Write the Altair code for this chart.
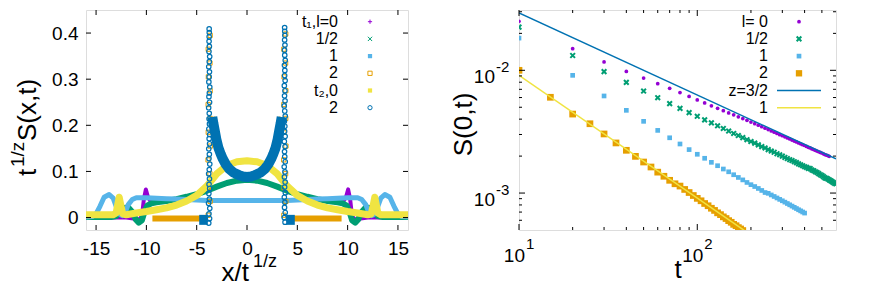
import altair as alt
import pandas as pd

FONT = "Liberation Sans"
PURPLE = "#9400d3"; GREEN = "#009e73"; LBLUE = "#56b4e9"
ORANGE = "#e69f00"; YELLOW = "#f0e442"; BLUE = "#0072b2"

# ---------------- left panel data: x/t^(1/z) , t^(1/z) S(x,t) ----------------
P_X = [-16, -12, -10.6, -10.4, -10.25, -10.05, -9.85, -9.6, -9, -8, -7, -6, -5, -4, -3, -2, -1, 0,
       1, 2, 3, 4, 5, 6, 7, 8, 9, 9.6, 9.85, 10.05, 10.25, 10.4, 10.6, 12, 16]
P_Y = [0.0, 0.0, -0.004, 0.01, 0.04, 0.061, 0.045, 0.036, 0.034, 0.036, 0.040, 0.045, 0.051, 0.058, 0.067, 0.075, 0.080, 0.082,
       0.080, 0.075, 0.067, 0.058, 0.051, 0.045, 0.040, 0.036, 0.034, 0.036, 0.045, 0.061, 0.04, 0.01, -0.004, 0.0, 0.0]

G_X = [-16, -13.5, -13.0, -12.6, -12.2, -11.8, -11.4, -11.05, -10.75, -10.45, -10.2, -9.9, -9.5, -9,
       -8, -7, -6, -5, -4, -3, -2, -1, 0, 1, 2, 3, 4, 5, 6, 7, 8,
       9, 9.5, 9.9, 10.2, 10.45, 10.75, 11.05, 11.4, 11.8, 12.2, 12.6, 13.0, 13.5, 16]
G_Y = [0.001, 0.001, 0.003, 0.012, 0.021, 0.022, 0.012, -0.004, -0.011, -0.006, 0.012, 0.026, 0.031, 0.033,
       0.036, 0.040, 0.045, 0.051, 0.058, 0.067, 0.075, 0.080, 0.082, 0.080, 0.075, 0.067, 0.058, 0.051, 0.045, 0.040, 0.036,
       0.033, 0.031, 0.026, 0.012, -0.006, -0.011, -0.004, 0.012, 0.022, 0.021, 0.012, 0.003, 0.001, 0.001]

LB_X = [-16, -15.4, -15.0, -14.6, -14.2, -13.7, -13.3, -13.0, -12.7, -12.4, -12.1, -11.8, -11.4, -11.0,
        -10, -9, -8, -7, -6, -5, -4, -3, -2, -1, 0, 1, 2, 3, 4, 5, 6, 7, 8, 9, 10,
        11.0, 11.4, 11.8, 12.1, 12.4, 12.7, 13.0, 13.3, 13.7, 14.2, 14.6, 15.0, 15.4, 16]
LB_Y = [0.001, 0.002, 0.008, 0.025, 0.044, 0.050, 0.042, 0.024, 0.008, 0.004, 0.012, 0.028, 0.039, 0.043,
        0.043, 0.042, 0.041, 0.040, 0.039, 0.038, 0.037, 0.037, 0.037, 0.037, 0.037, 0.037, 0.037, 0.037, 0.037,
        0.038, 0.039, 0.040, 0.041, 0.042, 0.043,
        0.043, 0.039, 0.028, 0.012, 0.004, 0.008, 0.024, 0.042, 0.050, 0.044, 0.025, 0.008, 0.002, 0.001]

Y_X = [-16, -14, -13.3, -13.0, -12.85, -12.7, -12.55, -12.35, -12.0, -11,
       -10, -9, -8, -7, -6, -5, -4, -3, -2, -1, 0, 1, 2, 3, 4, 5, 6, 7, 8, 9, 10,
       11, 12.0, 12.35, 12.55, 12.7, 12.85, 13.0, 13.3, 14, 16]
Y_Y = [0.006, 0.006, 0.006, 0.010, 0.028, 0.044, 0.028, 0.008, 0.006, 0.010,
       0.013, 0.017, 0.021, 0.027, 0.036, 0.048, 0.068, 0.095, 0.113, 0.121, 0.123,
       0.121, 0.113, 0.095, 0.068, 0.048, 0.036, 0.027, 0.021, 0.017, 0.013,
       0.010, 0.006, 0.008, 0.028, 0.044, 0.028, 0.010, 0.006, 0.006, 0.006]

# central U-shaped part of the l=2 profiles
U_X = [-3.45, -3.35, -3.2, -3.05, -2.85, -2.6, -2.4, -2.1, -1.75, -1.3, -0.8, -0.4, 0,
       0.4, 0.8, 1.3, 1.75, 2.1, 2.4, 2.6, 2.85, 3.05, 3.2, 3.35, 3.45]
U_Y = [0.218, 0.205, 0.188, 0.170, 0.152, 0.137, 0.127, 0.115, 0.105, 0.097, 0.092, 0.089, 0.088,
       0.089, 0.092, 0.097, 0.105, 0.115, 0.127, 0.137, 0.152, 0.170, 0.188, 0.205, 0.218]
# flat parts outside the fronts
O_BOT_X = [-9.4, -3.9, 3.9, 9.4]
O_BOT_Y = [-0.002, -0.002, -0.002, -0.002]
B_BOT_X = [-4.75, -3.9, 3.9, 4.75]
B_BOT_Y = [-0.005, -0.005, -0.005, -0.005]

# scattered points at the fronts (t2, l=2 circles)
SPL_X = [-3.80, -3.72, -3.78, -3.70, -3.82, -3.74, -3.79, -3.71, -3.77, -3.73, -3.81, -3.75, -3.70, -3.78,
         -3.74, -3.80, -3.72, -3.76, -3.71, -3.79, -3.73, -3.77, -3.75, -3.81, -3.72, -3.78, -3.74, -3.70,
         -3.79, -3.76, -3.73, -3.80, -3.75, -3.71, -3.78, -3.74, -3.77, -3.76, -3.75, -3.76]
SPL_Y = [-0.012, -0.002, 0.008, 0.02, 0.031, 0.04, 0.052, 0.063, 0.072, 0.084, 0.095, 0.104, 0.116, 0.128,
         0.137, 0.149, 0.16, 0.171, 0.18, 0.192, 0.203, 0.214, 0.226, 0.238, 0.25, 0.262, 0.27, 0.283,
         0.294, 0.305, 0.316, 0.327, 0.338, 0.349, 0.36, 0.371, 0.382, 0.392, 0.401, 0.409]
SPR_X = [3.78, 3.70, 3.80, 3.73, 3.76, 3.71, 3.81, 3.74, 3.79, 3.72, 3.77, 3.70, 3.80, 3.75,
         3.73, 3.78, 3.71, 3.79, 3.74, 3.76, 3.72, 3.80, 3.75, 3.70, 3.78, 3.73, 3.77, 3.71,
         3.79, 3.74, 3.76, 3.72, 3.80, 3.75, 3.73, 3.77, 3.74, 3.76, 3.75, 3.74]
SPR_Y = [-0.01, 0.0, 0.011, 0.022, 0.033, 0.044, 0.054, 0.066, 0.077, 0.088, 0.099, 0.11, 0.121, 0.132,
         0.143, 0.154, 0.165, 0.176, 0.187, 0.198, 0.209, 0.22, 0.231, 0.242, 0.253, 0.264, 0.275, 0.286,
         0.297, 0.308, 0.319, 0.33, 0.341, 0.352, 0.363, 0.374, 0.385, 0.395, 0.404, 0.412]
# scattered points at the fronts (t1, l=2 squares)
SQ_X = [-3.86, -3.66, -3.84, -3.68, -3.87, -3.65, -3.85, -3.67, -3.86, -3.66, -3.84, -3.68, -3.85, -3.66,
        3.66, 3.86, 3.68, 3.84, 3.65, 3.87, 3.67, 3.85, 3.66, 3.86, 3.68, 3.84, 3.66, 3.85]
SQ_Y = [0.005, 0.035, 0.065, 0.095, 0.125, 0.155, 0.185, 0.215, 0.245, 0.275, 0.305, 0.335, 0.365, 0.395,
        0.005, 0.035, 0.065, 0.095, 0.125, 0.155, 0.185, 0.215, 0.245, 0.275, 0.305, 0.335, 0.365, 0.398]

XT_L = [-15, -10, -5, 0, 5, 10, 15]
YT_L = [0, 0.1, 0.2, 0.3, 0.4]
LEG_L = ["t\u2081,l=0", "1/2", "1", "2", "t\u2082,0", "2"]

# ---------------- right panel data: S(0,t) ----------------
T0 = [10, 20, 30, 40, 50, 60, 70, 80, 90, 100, 110, 120, 130, 140, 150, 160, 170, 180, 190, 200,
      210, 220, 230, 240, 250, 260, 270, 280, 290, 300, 310, 320, 330, 340, 350, 360, 370, 380, 390, 400,
      410, 420, 430, 440, 450, 460, 470, 480, 490, 500, 510, 520, 530, 540, 550]
S0 = [0.0251, 0.0150, 0.0117, 0.00980, 0.00865, 0.00778, 0.00713, 0.00659, 0.00613, 0.00574,
      0.00542, 0.00514, 0.00490, 0.00469, 0.00450, 0.00434, 0.00418, 0.00404, 0.00391, 0.00379,
      0.00367, 0.00357, 0.00347, 0.00338, 0.00329, 0.00321, 0.00313, 0.00306, 0.00299, 0.00293,
      0.00287, 0.00281, 0.00276, 0.00270, 0.00265, 0.00261, 0.00256, 0.00252, 0.00248, 0.00244,
      0.00240, 0.00236, 0.00233, 0.00229, 0.00226, 0.00223, 0.00220, 0.00217, 0.00214, 0.00212,
      0.00209, 0.00206, 0.00204, 0.00202, 0.00199]
T_HALF = [10, 20, 30, 40, 50, 60, 70, 80, 90, 100, 110, 120, 130, 140, 150, 160, 170, 180, 190, 200,
          210, 220, 230, 240, 250, 260, 270, 280, 290, 300, 310, 320, 330, 340, 350, 360, 370, 380, 390, 400,
          410, 420, 430, 440, 450, 460, 470, 480, 490, 500, 510, 520, 530, 540, 550, 560, 570, 580, 590, 600]
S_HALF = [0.0225, 0.0132, 0.00975, 0.00798, 0.00678, 0.00598, 0.00535, 0.00490, 0.00452, 0.00422,
          0.00395, 0.00373, 0.00353, 0.00336, 0.00320, 0.00306, 0.00294, 0.00283, 0.00272, 0.00263,
          0.00255, 0.00247, 0.00239, 0.00233, 0.00226, 0.00220, 0.00215, 0.00209, 0.00205, 0.00200,
          0.00195, 0.00191, 0.00187, 0.00184, 0.00180, 0.00177, 0.00173, 0.00170, 0.00167, 0.00164,
          0.00162, 0.00159, 0.00158, 0.00154, 0.00152, 0.00149, 0.00147, 0.00144, 0.00141, 0.00139,
          0.00136, 0.00133, 0.00132, 0.00130, 0.00128, 0.00126, 0.00124, 0.00122, 0.00120, 0.00119]
T1 = [10, 20, 30, 40, 50, 60, 70, 80, 90, 100, 110, 120, 130, 140, 150, 160, 170, 180, 190, 200,
      210, 220, 230, 240, 250, 260, 270, 280, 290, 300, 310, 320, 330, 340, 350, 360, 370, 380, 390, 400]
S1 = [0.0183, 0.00910, 0.00618, 0.00472, 0.00384, 0.00324, 0.00282, 0.00251, 0.00226, 0.00207,
      0.00192, 0.00178, 0.00167, 0.00157, 0.00149, 0.00141, 0.00134, 0.00128, 0.00122, 0.00117,
      0.00113, 0.00109, 0.00105, 0.00101, 0.000995, 0.000965, 0.000938, 0.000912, 0.000888, 0.000865,
      0.000843, 0.000822, 0.000802, 0.000783, 0.000765, 0.000748, 0.000731, 0.000716, 0.000701, 0.000687]
T2 = [10, 15, 20, 25, 30, 35, 40, 45, 50, 55, 60, 65, 70, 75, 80, 85, 90, 95, 100, 105,
      110, 115, 120, 125, 130, 135, 140, 145, 150, 155, 160, 165, 170, 175, 180]
S2 = [0.0100, 0.00603, 0.00440, 0.00367, 0.00303, 0.00256, 0.00223, 0.00199, 0.00179, 0.00163,
      0.00148, 0.00137, 0.00127, 0.00119, 0.00114, 0.00107, 0.00101, 0.000955, 0.000905, 0.000865,
      0.000822, 0.000788, 0.000752, 0.000722, 0.000690, 0.000667, 0.000640, 0.000620, 0.000596, 0.000578,
      0.000556, 0.000542, 0.000523, 0.000510, 0.000495]
FIT32_T = [10, 600]
FIT32_S = [0.0293, 0.00190]
FIT1_T = [10, 185]
FIT1_S = [0.0091, 0.000492]

XT_R_MAJOR = [10, 100]
XT_R_SUP = ["1", "2"]
XT_R_MINOR = [20, 30, 40, 50, 60, 70, 80, 90, 200, 300, 400, 500]
YT_R_MAJOR = [0.001, 0.01]
YT_R_SUP = ["-3", "-2"]
YT_R_MINOR = [0.0006, 0.0007, 0.0008, 0.0009, 0.002, 0.003, 0.004, 0.005, 0.006, 0.007, 0.008, 0.009, 0.02, 0.03]
LEG_R = ["l= 0", "1/2", "1", "2", "z=3/2", "1"]

# ---------------- helpers ----------------
W_L, W_R, H = 322, 317, 220

XL = alt.Scale(domain=[-16, 16], nice=False, zero=False)
YL = alt.Scale(domain=[-0.027, 0.45], nice=False, zero=False)
AXL = alt.Axis(values=XT_L, labelExpr="'' + datum.value", ticks=False, tickSize=0, domain=False, grid=False,
               labelFontSize=19, labelFont=FONT, labelColor="black", labelPadding=9, labelFlush=False,
               labelOverlap=False, title=None)
AYL = alt.Axis(values=YT_L, format=".1~f", ticks=False, tickSize=0, domain=False, grid=False,
               labelFontSize=19, labelFont=FONT, labelColor="black", labelPadding=8, labelFlush=False,
               labelOverlap=False, title=None)
XR = alt.Scale(type="log", domain=[10, 600], nice=False)
YR = alt.Scale(type="log", domain=[0.0005, 0.031], nice=False)


def curve(xs, ys, segs=None):
    return pd.DataFrame({"x": xs, "y": ys, "i": list(range(len(xs))),
                         "seg": segs if segs is not None else [0] * len(xs)})


def lline(df, color, width):
    return alt.Chart(df).mark_line(color=color, strokeWidth=width, strokeCap="butt",
                                   strokeJoin="round", clip=True).encode(
        x=alt.X("x:Q", scale=XL, axis=AXL), y=alt.Y("y:Q", scale=YL, axis=AYL),
        order="i:Q", detail="seg:N")


def txt(s, x, y, size, align="left", angle=0, baseline="alphabetic"):
    return alt.Chart(pd.DataFrame({"s": [s]})).mark_text(
        align=align, baseline=baseline, angle=angle, fontSize=size, font=FONT, color="black").encode(
        x=alt.value(x), y=alt.value(y), text="s:N")


PLUS = "M-1,0L1,0M0,-1L0,1"
CROSS = "M-1,-1L1,1M-1,1L1,-1"

# ---------------- left panel ----------------
orange_df = curve(O_BOT_X[:2] + U_X + O_BOT_X[2:], O_BOT_Y[:2] + U_Y + O_BOT_Y[2:],
                  ["a", "a"] + ["b"] * len(U_X) + ["c", "c"])
blue_df = curve(B_BOT_X[:2] + U_X + B_BOT_X[2:], B_BOT_Y[:2] + U_Y + B_BOT_Y[2:],
                ["a", "a"] + ["b"] * len(U_X) + ["c", "c"])

left = [
    lline(curve(P_X, P_Y), PURPLE, 4),
    lline(curve(G_X, G_Y), GREEN, 6),
    lline(curve(LB_X, LB_Y), LBLUE, 5),
    lline(orange_df, ORANGE, 6),
    alt.Chart(pd.DataFrame({"x": SQ_X, "y": SQ_Y})).mark_point(
        shape="square", filled=False, color=ORANGE, size=18, strokeWidth=1, opacity=1, clip=True).encode(
        x=alt.X("x:Q", scale=XL, axis=AXL), y=alt.Y("y:Q", scale=YL, axis=AYL)),
    lline(curve(Y_X, Y_Y), YELLOW, 7),
    lline(blue_df, BLUE, 10),
    alt.Chart(pd.DataFrame({"x": SPL_X + SPR_X, "y": SPL_Y + SPR_Y})).mark_point(
        shape="circle", filled=False, color=BLUE, size=20, strokeWidth=1.2, opacity=1, clip=True).encode(
        x=alt.X("x:Q", scale=XL, axis=AXL), y=alt.Y("y:Q", scale=YL, axis=AYL)),
]
xt_df = pd.DataFrame({"x": XT_L})
yt_df = pd.DataFrame({"y": YT_L})
for y1, y2 in [(H, H - 5), (0, 5)]:
    left.append(alt.Chart(xt_df).mark_rule(color="black", strokeWidth=1).encode(
        x=alt.X("x:Q", scale=XL, axis=AXL), y=alt.value(y1), y2=alt.value(y2)))
for x1, x2 in [(0, 5), (W_L, W_L - 5)]:
    left.append(alt.Chart(yt_df).mark_rule(color="black", strokeWidth=1).encode(
        y=alt.Y("y:Q", scale=YL, axis=AYL), x=alt.value(x1), x2=alt.value(x2)))

leg_shapes = [PLUS, CROSS, "square", "square", "square", "circle"]
leg_filled = [False, False, True, False, True, False]
leg_colors = [PURPLE, GREEN, LBLUE, ORANGE, YELLOW, BLUE]
for i, lab in enumerate(LEG_L):
    yy = 11.7 + 17.2 * i
    left.append(txt(lab, 252, yy, 16, align="right", baseline="middle"))
    left.append(alt.Chart(pd.DataFrame({"s": [lab]})).mark_point(
        shape=leg_shapes[i], filled=leg_filled[i], color=leg_colors[i], size=18, strokeWidth=1,
        opacity=1).encode(x=alt.value(284), y=alt.value(yy)))

# axis titles with superscripts
left += [
    txt("t", -50, 166, 26, angle=270),
    txt("1/z", -62, 157, 19, angle=270),
    txt("S(x,t)", -50, 131, 26, angle=270),
    txt("x/t", 163, 271, 26, align="right"),
    txt("1/z", 167, 257, 18),
    alt.Chart(pd.DataFrame({"s": [0]})).mark_rule(strokeOpacity=0).encode(
        x=alt.value(-75), x2=alt.value(-75), y=alt.value(100), y2=alt.value(101)),
]
left_chart = alt.layer(*left).properties(width=W_L, height=H)


# ---------------- right panel ----------------
def rpts(ts, ss, color, shape, size, filled=True, sw=1):
    return alt.Chart(pd.DataFrame({"x": ts, "y": ss})).mark_point(
        shape=shape, filled=filled, color=color, size=size, strokeWidth=sw, opacity=1, clip=True).encode(
        x=alt.X("x:Q", scale=XR, axis=None), y=alt.Y("y:Q", scale=YR, axis=None))


def rline(ts, ss, color):
    return alt.Chart(pd.DataFrame({"x": ts, "y": ss})).mark_line(
        color=color, strokeWidth=1.5, clip=True).encode(
        x=alt.X("x:Q", scale=XR, axis=None), y=alt.Y("y:Q", scale=YR, axis=None))


right = [
    rpts(T0, S0, PURPLE, "circle", 14),
    rpts(T_HALF, S_HALF, GREEN, CROSS, 22, filled=False, sw=2),
    rpts(T1, S1, LBLUE, "square", 22),
    rpts(T2, S2, ORANGE, "square", 45),
    rline(FIT32_T, FIT32_S, BLUE),
    rline(FIT1_T, FIT1_S, YELLOW),
]
for vals, ln in [(XT_R_MAJOR, 6), (XT_R_MINOR, 3)]:
    d = pd.DataFrame({"x": vals})
    for y1, y2 in [(H, H - ln), (0, ln)]:
        right.append(alt.Chart(d).mark_rule(color="black", strokeWidth=1).encode(
            x=alt.X("x:Q", scale=XR, axis=None), y=alt.value(y1), y2=alt.value(y2)))
for vals, ln in [(YT_R_MAJOR, 6), (YT_R_MINOR, 3)]:
    d = pd.DataFrame({"y": vals})
    for x1, x2 in [(0, ln), (W_R, W_R - ln)]:
        right.append(alt.Chart(d).mark_rule(color="black", strokeWidth=1).encode(
            y=alt.Y("y:Q", scale=YR, axis=None), x=alt.value(x1), x2=alt.value(x2)))

xl_df = pd.DataFrame({"x": XT_R_MAJOR, "b": ["10", "10"], "sup": XT_R_SUP})
yl_df = pd.DataFrame({"y": YT_R_MAJOR, "b": ["10", "10"], "sup": YT_R_SUP})
right += [
    alt.Chart(xl_df).mark_text(align="right", dx=6, fontSize=19, font=FONT, color="black").encode(
        x=alt.X("x:Q", scale=XR, axis=None), y=alt.value(246), text="b:N"),
    alt.Chart(xl_df).mark_text(align="left", dx=7, fontSize=15, font=FONT, color="black").encode(
        x=alt.X("x:Q", scale=XR, axis=None), y=alt.value(234), text="sup:N"),
    alt.Chart(yl_df).mark_text(align="right", dy=7, fontSize=19, font=FONT, color="black").encode(
        x=alt.value(-24), y=alt.Y("y:Q", scale=YR, axis=None), text="b:N"),
    alt.Chart(yl_df).mark_text(align="left", dy=-3, fontSize=15, font=FONT, color="black").encode(
        x=alt.value(-23), y=alt.Y("y:Q", scale=YR, axis=None), text="sup:N"),
    txt("S(0,t)", -47, 114.5, 26, align="center", angle=270),
    txt("t", 159, 268, 26, align="center"),
]

rleg_shapes = ["circle", CROSS, "square", "square"]
rleg_filled = [True, False, True, True]
rleg_sizes = [14, 22, 22, 40]
rleg_sw = [1, 2, 1, 1]
for i, lab in enumerate(LEG_R):
    yy = 11.7 + 17.2 * i
    right.append(txt(lab, 249, yy, 16, align="right", baseline="middle"))
    if i < 4:
        right.append(alt.Chart(pd.DataFrame({"s": [lab]})).mark_point(
            shape=rleg_shapes[i], filled=rleg_filled[i], color=leg_colors[i], size=rleg_sizes[i],
            strokeWidth=rleg_sw[i], opacity=1).encode(x=alt.value(280), y=alt.value(yy)))
    else:
        right.append(alt.Chart(pd.DataFrame({"s": [lab]})).mark_rule(
            color=BLUE if i == 4 else YELLOW, strokeWidth=1.5).encode(
            x=alt.value(258), x2=alt.value(302), y=alt.value(yy)))

right_chart = alt.layer(*right).properties(width=W_R, height=H)

chart = alt.hconcat(left_chart, right_chart, spacing=111, bounds="flush").properties(
    padding={"left": 0, "top": 1, "right": 0, "bottom": 0}
).configure_view(stroke="black", strokeWidth=1).configure(background="white")

chart.save("out.html", embed_options={"renderer": "svg", "actions": False})
